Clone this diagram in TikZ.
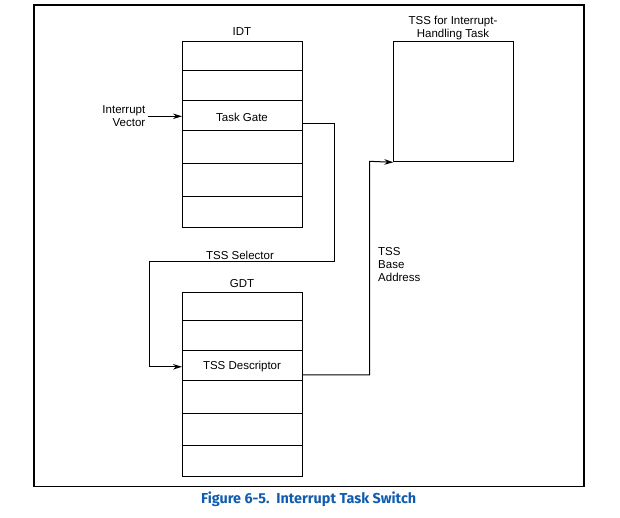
\documentclass[tikz,border=0pt]{standalone}
\usepackage{fontspec}
\setmainfont{Liberation Sans}
\newfontfamily\capfont{Fira Sans}
\usetikzlibrary{arrows.meta}
\definecolor{capblue}{RGB}{16,92,176}
\begin{document}
\begin{tikzpicture}[x=1pt,y=-1pt,
  every node/.style={font=\fontsize{11.5}{12.8}\selectfont},
  cell/.style={draw,line width=1pt,minimum width=120pt,inner sep=0pt,anchor=north west},
  conn/.style={line width=1pt},
  arr/.style={conn,-{Stealth[length=9pt,width=5.5pt]}},
  lbl/.style={inner sep=0pt}]
\useasboundingbox (0,0) rectangle (620,518);
\node[draw,line width=1.3pt,minimum width=550pt,minimum height=481.5pt,anchor=north west,inner sep=0pt] (frame) at (33.3,4.3) {};
% IDT
\node[lbl] (idtlbl) at (242,32) {IDT};
\node[cell,minimum height=29pt] (i1) at (182,41) {};
\node[cell,minimum height=30pt] (i2) at (182,70) {};
\node[cell,minimum height=30pt] (i3) at (182,100) {};
\node[lbl] (tg) at (242,117) {Task Gate};
\node[cell,minimum height=33pt] (i4) at (182,130) {};
\node[cell,minimum height=33pt] (i5) at (182,163) {};
\node[cell,minimum height=31pt] (i6) at (182,196) {};
% GDT
\node[lbl] (gdtlbl) at (242,284) {GDT};
\node[cell,minimum height=28pt] (g1) at (182,292) {};
\node[cell,minimum height=30pt] (g2) at (182,320) {};
\node[cell,minimum height=30pt] (g3) at (182,350) {};
\node[lbl] (td) at (242,366.5) {TSS Descriptor};
\node[cell,minimum height=33pt] (g4) at (182,380) {};
\node[cell,minimum height=32pt] (g5) at (182,413) {};
\node[cell,minimum height=31pt] (g6) at (182,445) {};
% TSS
\node[lbl,align=center] (tsslbl) at (453,28) {TSS for Interrupt-\\Handling Task};
\node[draw,line width=1pt,minimum width=119.4pt,minimum height=120pt,anchor=north west,inner sep=0pt] (tss) at (393.3,41.3) {};
% labels
\node[lbl,align=right,anchor=east] (iv) at (145.5,116) {Interrupt\\Vector};
\node[lbl] (sel) at (240,255) {TSS Selector};
\node[lbl,align=left,anchor=west] (base) at (378,264.5) {TSS\\Base\\Address};
% connectors
\coordinate (c1) at (334,262);
\coordinate (c2) at (149,262);
\coordinate (c3) at (369.5,161.3);
\draw[arr] ([xshift=2pt]iv.east |- 0,116.3) -- (i3.west |- 0,116.3);
\draw[arr] ([yshift=-8pt]i3.east) -| (c1) -- (c2) |- ([yshift=-1.3pt]g3.west);
\draw[arr] ([yshift=-9.3pt]g3.east) -| (c3) -- (tss.south west);
% caption
\node[lbl,text=capblue,font=\capfont\bfseries\fontsize{14.4}{16}\selectfont] (cap) at (308.7,499) {Figure 6-5.\ \ Interrupt Task Switch};
\end{tikzpicture}
\end{document}
